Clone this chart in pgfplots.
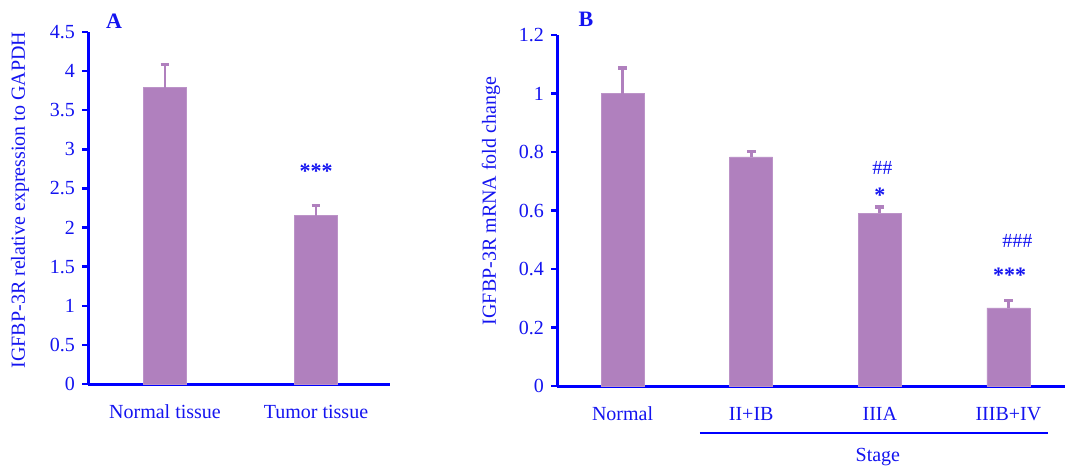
\documentclass[border=0pt]{standalone}
\usepackage{pgfplots}
\pgfplotsset{compat=1.18}
\usepackage{fontspec}
\setmainfont{Liberation Serif}
\definecolor{barc}{RGB}{176,128,190}
\definecolor{txt}{RGB}{20,20,240}
\pgfplotsset{panel/.style={
  scale only axis,
  axis x line=bottom, axis y line=left,
  axis line style={blue, line width=1.5pt, -},
  tick align=outside, major tick length=3pt,
  ytick style={blue, line width=1.25pt},
  xtick style={draw=none},
  tick label style={font=\fontsize{10}{12}\selectfont, text=txt},
  /pgf/number format/assume math mode=true,
  ybar, bar width=21.5pt, clip=false, xtick=data,
  ymin=0,
}}
\begin{document}
\begin{tikzpicture}
\useasboundingbox (0,0) rectangle (532.5pt,234pt);
% Panel A
\begin{axis}[panel, at={(44pt,42pt)}, anchor=south west,
  width=151pt, height=176pt,
  xmin=-0.51, xmax=1.49, ymax=4.5,
  ytick={0,0.5,1,1.5,2,2.5,3,3.5,4,4.5},
  xticklabels={Normal tissue, Tumor tissue},
  xticklabel style={yshift=-4pt}]
\addplot[fill=barc, draw=barc!85!white,
  error bars/.cd, y dir=plus, y explicit,
  error bar style={barc, line width=1.4pt},
  error mark options={barc, line width=1.6pt, mark size=2.2pt, rotate=90}]
  coordinates {(0,3.79) +- (0,0.29) (1,2.15) +- (0,0.13)};
\node[text=txt, font=\fontsize{11}{12}\selectfont\bfseries] at (axis cs:1,2.72) {***};
\node[text=txt, font=\fontsize{11}{12}\selectfont\bfseries] at (rel axis cs:0.086,1.031) {A};
\node[text=txt, rotate=90, font=\fontsize{10}{12}\selectfont] at (rel axis cs:-0.225,0.523) {IGFBP-3R relative expression to GAPDH};
\end{axis}
% Panel B
\begin{axis}[panel, at={(278.5pt,41pt)}, anchor=south west,
  width=254pt, height=175.5pt,
  xmin=-0.51, xmax=3.44, ymax=1.2,
  ytick={0,0.2,0.4,0.6,0.8,1,1.2},
  xticklabels={Normal, II+IB, IIIA, IIIB+IV},
  xticklabel style={yshift=-4pt}]
\addplot[fill=barc, draw=barc!85!white,
  error bars/.cd, y dir=plus, y explicit,
  error bar style={barc, line width=1.4pt},
  error mark options={barc, line width=1.6pt, mark size=2.2pt, rotate=90}]
  coordinates {(0,1.0) +- (0,0.087) (1,0.783) +- (0,0.02) (2,0.591) +- (0,0.021) (3,0.267) +- (0,0.025)};
\node[text=txt, font=\fontsize{10}{12}\selectfont] at (axis cs:2.02,0.745) {\#\#};
\node[text=txt, font=\fontsize{11}{12}\selectfont\bfseries] at (axis cs:2.0,0.652) {*};
\node[text=txt, font=\fontsize{10}{12}\selectfont] at (axis cs:3.07,0.496) {\#\#\#};
\node[text=txt, font=\fontsize{11}{12}\selectfont\bfseries] at (axis cs:3.01,0.378) {***};
\node[text=txt, font=\fontsize{11}{12}\selectfont\bfseries] at (rel axis cs:0.057,1.046) {B};
\node[text=txt, rotate=90, font=\fontsize{10}{12}\selectfont] at (rel axis cs:-0.13,0.527) {IGFBP-3R mRNA fold change};
\draw[blue, line width=1pt] (axis cs:0.60,-0.161) -- (axis cs:3.31,-0.161);
\node[text=txt, font=\fontsize{10}{12}\selectfont] at (axis cs:1.985,-0.243) {Stage};
\end{axis}
\end{tikzpicture}
\end{document}
